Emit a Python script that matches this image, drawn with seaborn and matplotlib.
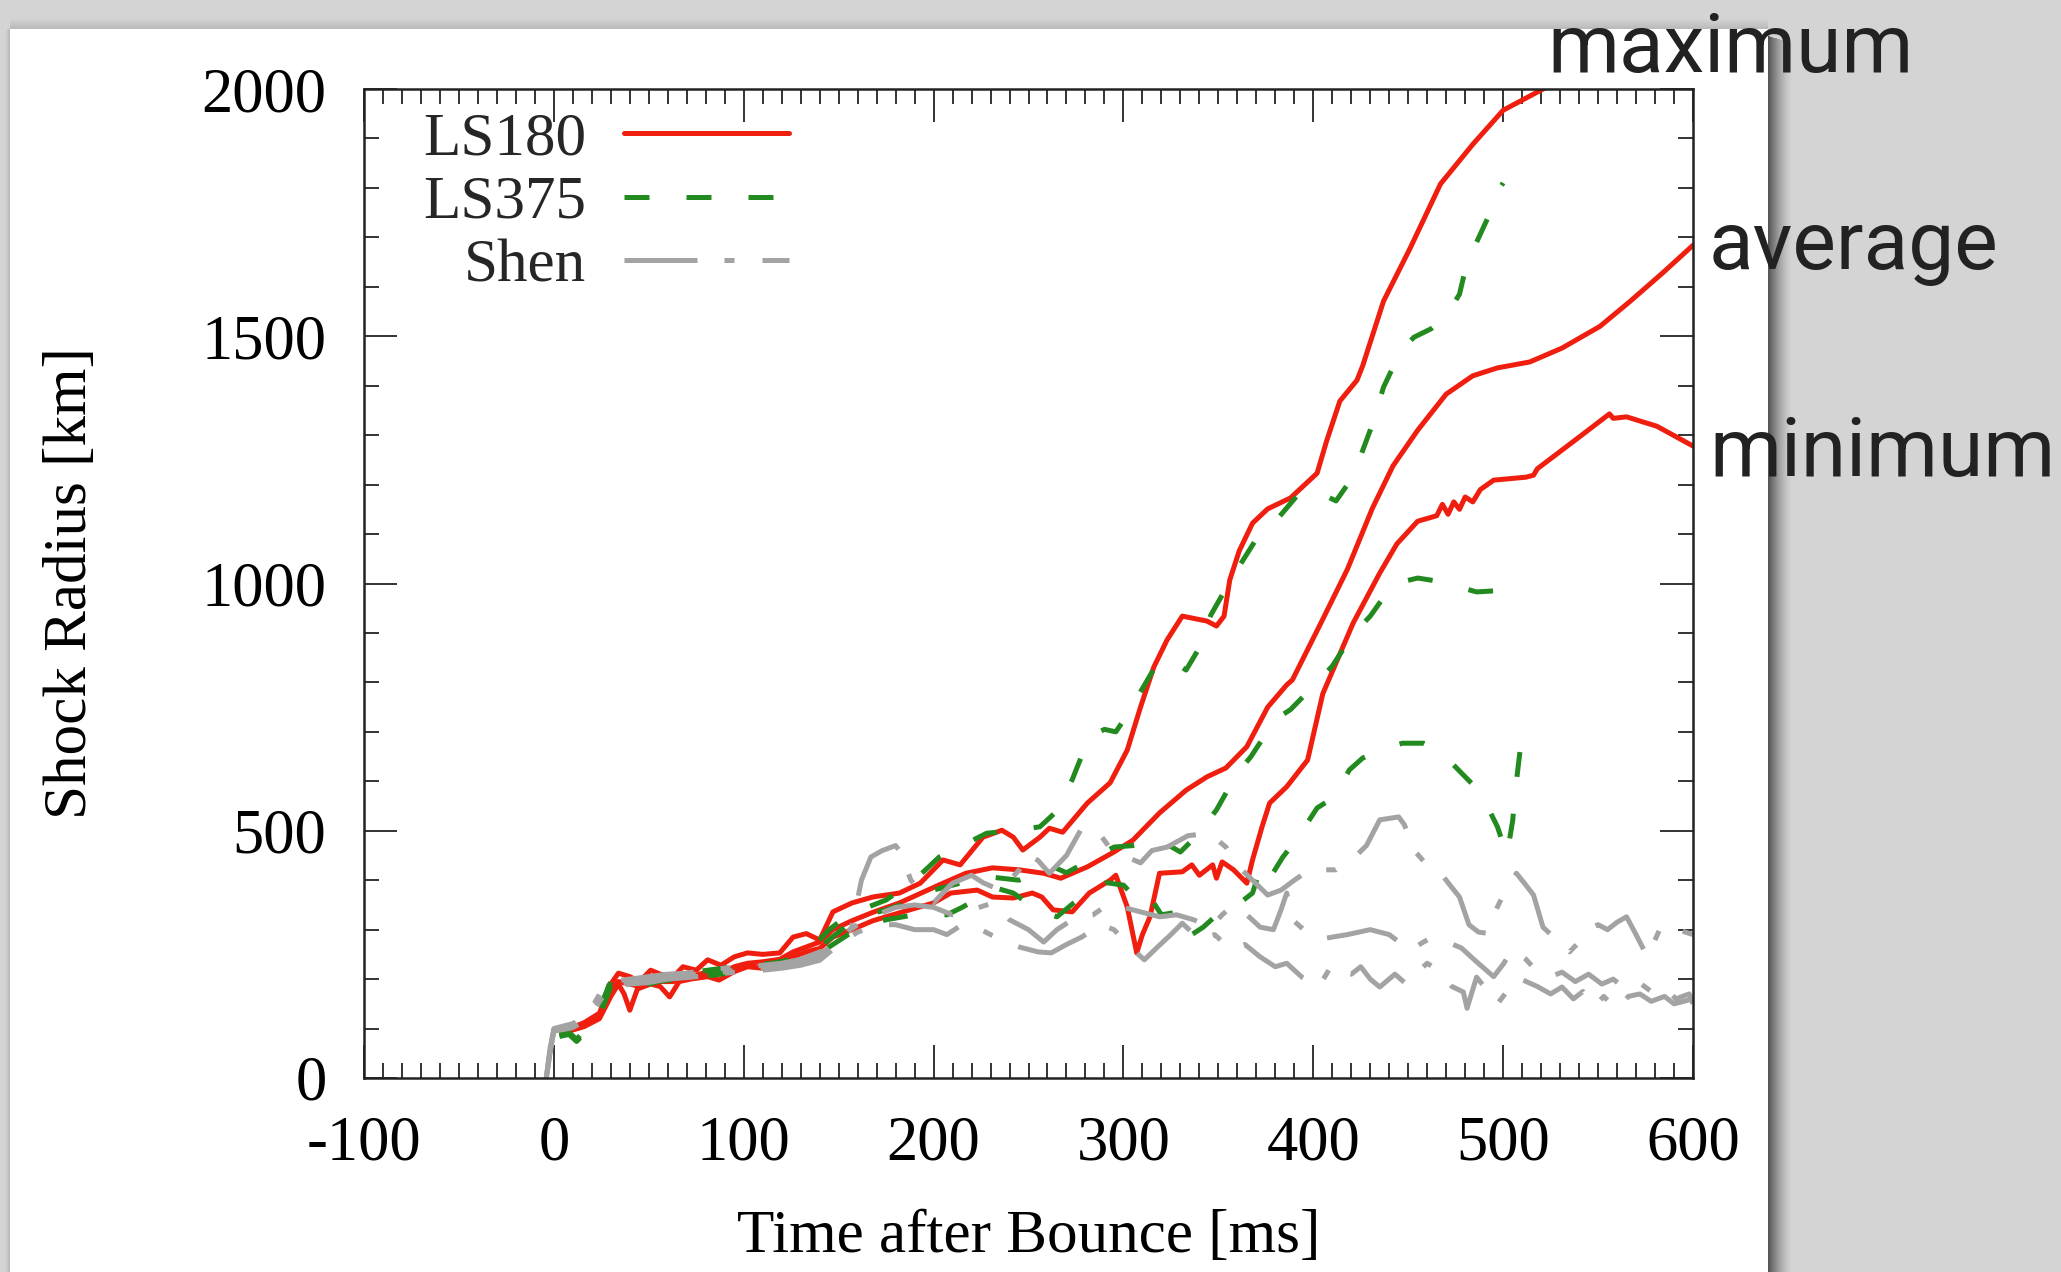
import matplotlib
matplotlib.use("Agg")
import matplotlib.pyplot as plt
import seaborn as sns
from matplotlib.patches import Rectangle
from matplotlib.ticker import MultipleLocator

# ---------------- data ----------------
ls180_max_t = [4, 9, 16, 24, 30, 34, 40, 45, 51, 56, 63, 68, 75, 81, 88, 95, 102, 110, 119, 126, 133, 140,
               147, 157, 168, 182, 193, 205, 214, 226, 236, 242, 247, 256, 261, 268, 281, 293, 302, 309, 316,
               323, 331, 344, 349, 353, 356, 361, 368, 376, 388, 402, 407, 414, 423, 426, 437, 451, 467, 484,
               500, 523, 545]
ls180_max_r = [95, 101, 112, 131, 190, 212, 205, 195, 218, 210, 205, 225, 218, 239, 228, 245, 253, 250, 253,
               285, 292, 279, 336, 354, 366, 374, 394, 441, 431, 487, 501, 487, 461, 487, 505, 497, 556, 597,
               663, 750, 831, 886, 934, 924, 914, 934, 1007, 1066, 1122, 1151, 1173, 1223, 1288, 1369, 1411,
               1440, 1571, 1678, 1808, 1888, 1957, 2004, 2050]

ls180_avg_t = [4, 9, 16, 24, 30, 34, 40, 45, 51, 56, 63, 68, 75, 81, 88, 95, 102, 110, 119, 126, 133, 140,
               147, 157, 168, 182, 205, 217, 231, 245, 258, 267, 281, 295, 305, 319, 333, 344, 354, 365, 376,
               386, 389, 404, 418, 431, 442, 455, 470, 484, 497, 514, 531, 551, 567, 584, 600]
ls180_avg_r = [92, 98, 108, 125, 175, 195, 190, 185, 200, 195, 195, 205, 208, 215, 212, 225, 232, 235, 240,
               255, 265, 275, 300, 318, 335, 354, 394, 414, 425, 421, 414, 404, 427, 457, 481, 536, 582, 609,
               627, 670, 750, 795, 805, 920, 1029, 1151, 1238, 1310, 1383, 1420, 1436, 1448, 1476, 1520,
               1571, 1628, 1684]

ls180_min_t = [4, 9, 16, 24, 30, 34, 37, 40, 44, 51, 56, 61, 66, 72, 81, 87, 95, 102, 110, 119, 126, 133,
               140, 147, 157, 168, 182, 200, 209, 223, 231, 242, 252, 257, 263, 273, 282, 293, 296, 302, 307,
               310, 314, 319, 331, 336, 340, 347, 349, 352, 358, 365, 368, 373, 377, 386, 397, 405, 421, 435,
               444, 455, 465, 468, 471, 474, 477, 480, 484, 488, 495, 512, 516, 518, 540, 556, 558, 565, 581,
               600]
ls180_min_r = [90, 96, 104, 120, 165, 190, 170, 137, 180, 190, 185, 164, 195, 200, 205, 198, 215, 225, 222,
               230, 245, 255, 262, 285, 300, 318, 334, 354, 374, 380, 366, 364, 374, 366, 340, 336, 374, 400,
               410, 346, 253, 290, 326, 414, 417, 431, 410, 431, 404, 437, 421, 394, 441, 508, 556, 589, 643,
               777, 920, 1021, 1080, 1126, 1137, 1160, 1140, 1165, 1150, 1175, 1165, 1190, 1209, 1215, 1219,
               1232, 1296, 1343, 1334, 1337, 1318, 1278]

ls375_max_t = [3, 8, 12, 18, 25, 30, 36, 45, 55, 65, 75, 85, 95, 105, 115, 125, 135, 145, 155, 165, 175,
               190, 203, 215, 228, 242, 256, 265, 273, 282, 290, 296, 303, 309, 318, 325, 333, 340, 346, 354,
               361, 370, 381, 392, 400, 412, 418, 423, 430, 437, 446, 453, 462, 470, 477, 481, 486, 492, 497,
               500]
ls375_max_r = [85, 90, 75, 100, 140, 200, 205, 195, 205, 210, 215, 220, 225, 230, 232, 240, 260, 300, 330,
               345, 360, 400, 447, 470, 495, 500, 508, 540, 603, 690, 705, 700, 740, 781, 840, 845, 825, 870,
               936, 990, 1035, 1090, 1130, 1180, 1189, 1167, 1200, 1238, 1310, 1397, 1470, 1498, 1515, 1541,
               1585, 1650, 1690, 1740, 1792, 1810]

ls375_avg_t = [3, 8, 12, 18, 25, 30, 36, 45, 55, 65, 75, 85, 95, 105, 115, 125, 135, 145, 155, 165, 175,
               190, 200, 215, 231, 245, 263, 270, 282, 295, 305, 321, 330, 336, 342, 349, 360, 367, 380, 388,
               402, 410, 421, 430, 442, 455, 465, 473, 486, 495, 505, 509]
ls375_avg_r = [88, 92, 78, 105, 150, 195, 200, 190, 200, 205, 210, 212, 220, 225, 228, 232, 250, 280, 310,
               330, 340, 360, 380, 395, 406, 400, 427, 415, 440, 467, 470, 477, 457, 480, 508, 542, 617, 649,
               725, 745, 800, 833, 898, 934, 999, 1011, 1005, 997, 983, 985, 983, 971]

ls375_min_t = [3, 8, 12, 18, 25, 30, 36, 45, 55, 65, 75, 85, 95, 105, 115, 125, 135, 145, 155, 165, 175,
               190, 207, 215, 233, 242, 256, 265, 282, 291, 300, 309, 314, 320, 326, 331, 336, 342, 351, 360,
               368, 371, 374, 384, 391, 402, 411, 419, 426, 440, 447, 458, 467, 479, 488, 497, 502, 505, 507,
               509]
ls375_min_r = [84, 88, 74, 98, 135, 185, 195, 185, 195, 200, 205, 208, 215, 220, 222, 228, 245, 265, 290,
               310, 320, 330, 330, 345, 384, 374, 336, 326, 380, 395, 390, 354, 366, 330, 334, 285, 290, 305,
               336, 350, 374, 410, 385, 447, 481, 546, 568, 623, 647, 670, 677, 677, 660, 613, 578, 508, 450,
               520, 600, 665]

shen_max_t = [-4, -2, 0, 5, 10, 18, 25, 30, 40, 50, 60, 70, 80, 90, 100, 110, 120, 130, 140, 147, 157, 162,
              167, 173, 180, 183, 188, 195, 200, 205, 210, 220, 226, 235, 245, 249, 255, 261, 270, 278, 286,
              292, 300, 309, 315, 323, 334, 345, 354, 360, 368, 376, 383, 390, 398, 404, 412, 420, 428, 435,
              445, 448, 453, 460, 466, 472, 477, 482, 487, 491, 495, 500, 507, 512, 516, 521, 528, 535, 540,
              544, 550, 555, 560, 565, 570, 576, 583, 588, 592, 600]
shen_max_r = [0, 60, 100, 105, 110, 130, 175, 195, 200, 205, 210, 212, 218, 222, 225, 228, 232, 240, 255,
              260, 305, 400, 447, 460, 470, 455, 400, 370, 354, 375, 394, 410, 395, 380, 420, 455, 440, 414,
              450, 505, 501, 470, 450, 435, 460, 467, 490, 495, 467, 430, 400, 370, 380, 400, 421, 421, 421,
              440, 470, 522, 528, 512, 461, 430, 420, 390, 366, 310, 295, 293, 330, 370, 414, 390, 370, 305,
              280, 255, 275, 300, 310, 300, 315, 326, 290, 245, 305, 295, 300, 290]

shen_avg_t = [-4, -2, 0, 5, 10, 18, 25, 30, 40, 50, 60, 70, 80, 90, 100, 110, 120, 130, 140, 150, 160, 170,
              180, 190, 200, 210, 220, 232, 240, 250, 258, 265, 275, 284, 293, 300, 310, 319, 328, 337, 346,
              352, 358, 365, 372, 379, 383, 386, 389, 395, 403, 410, 418, 430, 440, 451, 458, 463, 468, 478,
              486, 495, 500, 505, 512, 518, 525, 531, 538, 545, 552, 558, 563, 572, 578, 585, 591, 598, 600]
shen_avg_r = [0, 55, 98, 100, 105, 125, 165, 188, 195, 198, 205, 208, 212, 215, 220, 222, 228, 235, 245,
              285, 310, 330, 345, 350, 345, 330, 340, 355, 320, 300, 275, 300, 325, 330, 354, 345, 335, 326,
              330, 320, 305, 330, 350, 330, 305, 300, 340, 374, 320, 300, 280, 285, 290, 300, 290, 258, 275,
              285, 279, 263, 235, 205, 230, 260, 240, 215, 205, 214, 195, 210, 190, 200, 184, 192, 175, 185,
              160, 170, 150]

shen_min_t = [-4, -2, 0, 5, 10, 18, 25, 30, 40, 50, 60, 70, 80, 90, 100, 110, 120, 130, 140, 150, 160, 170,
              180, 190, 200, 207, 215, 225, 235, 245, 255, 262, 270, 278, 288, 295, 305, 311, 318, 325, 331,
              340, 348, 357, 364, 372, 380, 386, 394, 403, 410, 415, 420, 425, 430, 435, 443, 449, 455, 460,
              467, 473, 479, 481, 486, 492, 497, 502, 507, 518, 525, 531, 537, 542, 548, 553, 560, 566, 572,
              578, 585, 590, 598, 600]
shen_min_r = [0, 50, 95, 98, 102, 120, 160, 182, 190, 193, 200, 203, 207, 212, 215, 218, 222, 228, 238,
              270, 295, 310, 310, 300, 300, 290, 310, 300, 280, 265, 255, 253, 270, 285, 310, 300, 260, 239,
              265, 290, 313, 280, 290, 259, 270, 245, 225, 232, 204, 185, 230, 215, 210, 225, 200, 184, 210,
              190, 215, 232, 215, 185, 174, 141, 204, 175, 150, 175, 204, 185, 170, 184, 160, 175, 145, 165,
              138, 165, 170, 155, 165, 150, 158, 160]

eos_names = ["LS180", "LS375", "Shen"]
x_ticks = [-100, 0, 100, 200, 300, 400, 500, 600]
y_ticks = [0, 500, 1000, 1500, 2000]
curve_names = ["maximum", "average", "minimum"]

series = {
    "LS180": [(ls180_max_t, ls180_max_r), (ls180_avg_t, ls180_avg_r), (ls180_min_t, ls180_min_r)],
    "LS375": [(ls375_max_t, ls375_max_r), (ls375_avg_t, ls375_avg_r), (ls375_min_t, ls375_min_r)],
    "Shen": [(shen_max_t, shen_max_r), (shen_avg_t, shen_avg_r), (shen_min_t, shen_min_r)],
}

# ---------------- styling ----------------
sns.set_theme(style="ticks")
plt.rcParams['font.family'] = ['Liberation Serif', 'DejaVu Serif']
plt.rcParams['axes.unicode_minus'] = False

colors = {"LS180": "#f01e0e", "LS375": "#228a1e", "Shen": "#a3a3a3"}
LW = 3.6
styles = {"LS180": "-", "LS375": (0, (5.0, 7.4)), "Shen": (0, (14.6, 5.4, 2.0, 5.6))}

W, H = 2061, 1272
fig = plt.figure(figsize=(W / 100, H / 100), dpi=100, facecolor='#d4d4d4')


def px_rect(x0, y0, x1, y1, **kw):
    fig.add_artist(Rectangle((x0 / W, 1 - y1 / H), (x1 - x0) / W, (y1 - y0) / H,
                             transform=fig.transFigure, linewidth=0, **kw))


# slide panel with a soft shadow
for k in range(24):
    a = 0.6 * (1 - k / 24) ** 1.5
    px_rect(1768 + k, 36 + k * 0.3, 1769 + k, 1272, color='black', alpha=a, zorder=-20)
for k in range(10):
    a = 0.12 * (1 - k / 10)
    px_rect(10, 28 - k, 1768, 29 - k, color='black', alpha=a, zorder=-20)
for k in range(4):
    px_rect(9 - k, 29, 10 - k, 1272, color='black', alpha=0.12 * (1 - k / 4), zorder=-20)
px_rect(10, 29, 1768, 1272, color='white', zorder=-15)

L, R, T, B = 364, 1693, 89, 1078
ax = fig.add_axes([L / W, 1 - B / H, (R - L) / W, (B - T) / H])
ax.set_facecolor('white')

for eos in eos_names:
    for i, (tt, rr) in enumerate(series[eos]):
        sns.lineplot(x=tt, y=rr, ax=ax, color=colors[eos], linewidth=LW, linestyle=styles[eos],
                     estimator=None, sort=False, label=eos if i == 0 else "_nolegend_",
                     legend=False, dash_capstyle='butt', solid_joinstyle='round')

ax.set_xlim(-100, 600)
ax.set_ylim(0, 2000)
ax.set_xticks(x_ticks)
ax.set_yticks(y_ticks)
ax.xaxis.set_minor_locator(MultipleLocator(10))
ax.yaxis.set_minor_locator(MultipleLocator(100))
ax.tick_params(which='both', direction='in', top=True, right=True, width=1.4, color='#333333')
ax.tick_params(which='major', length=23.5, labelsize=45, pad=27, labelcolor='black')
ax.tick_params(which='minor', length=11)
for s in ax.spines.values():
    s.set_linewidth(1.8)
    s.set_color('#222222')

ax.set_xlabel("Time after Bounce [ms]", fontsize=44, color='black')
ax.set_ylabel("Shock Radius [km]", fontsize=44, color='black')
ax.xaxis.set_label_coords(0.5, (B - 1210) / (B - T))
ax.yaxis.set_label_coords((99 - L) / (R - L), 0.5)

leg = ax.legend(loc='upper right', bbox_to_anchor=((789 - L) / (R - L), (B - 112) / (B - T)),
                frameon=False, markerfirst=False, handlelength=2.7, handletextpad=0.62,
                labelspacing=0.12, fontsize=44, borderaxespad=0, borderpad=0)

# annotations on the slide
ann_font = ['Roboto', 'DejaVu Sans']
fig.text(1547 / W, 1 - 72 / H, curve_names[0], fontsize=59, family=ann_font, color='#222222',
         ha='left', va='baseline')
fig.text(1709 / W, 1 - 269 / H, curve_names[1], fontsize=59, family=ann_font, color='#222222',
         ha='left', va='baseline')
fig.text(1709 / W, 1 - 476 / H, curve_names[2], fontsize=59, family=ann_font, color='#222222',
         ha='left', va='baseline')

fig.savefig("out.png", dpi=100, facecolor=fig.get_facecolor())
